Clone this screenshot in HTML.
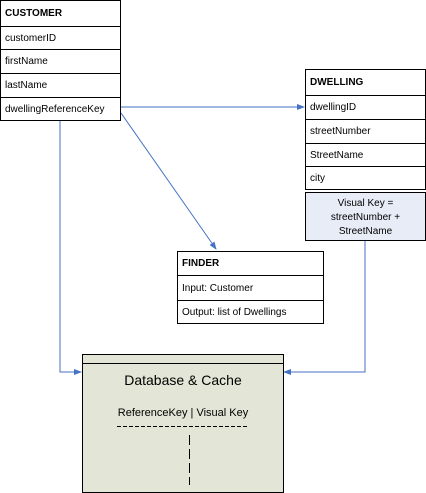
<!DOCTYPE html>
<html><head><style>
body{margin:0;background:#fff;width:426px;height:492px;position:relative;font-family:"Liberation Sans",Arial,sans-serif;font-size:10px;color:#000;overflow:hidden}
.b{position:absolute;border:1px solid #000;box-sizing:border-box;background:#fff}
.r{position:absolute;left:0;right:0;border-top:1px solid #000;padding-left:4px;box-sizing:border-box;display:flex;align-items:center}
.h{font-weight:bold}
</style></head><body>
<svg width="426" height="492" style="position:absolute;left:0;top:0">
<defs><marker id="a" markerWidth="8" markerHeight="8" refX="7" refY="4" orient="auto" markerUnits="userSpaceOnUse"><path d="M0,1 L8,4 L0,7 Z" fill="#4472c4"/></marker></defs>
<g stroke="#4472c4" stroke-width="1" fill="none">
<path d="M121,107 L304,107" marker-end="url(#a)"/>
<path d="M121,113 L216,249" marker-end="url(#a)"/>
<path d="M60,120 L60,372 L81,372" marker-end="url(#a)"/>
<path d="M365,240 L365,372 L284,372" marker-end="url(#a)"/>
</g></svg>
<div class="b" style="left:0;top:0;width:121px;height:121px">
<div class="r h" style="top:0;height:25px;border-top:0">CUSTOMER</div>
<div class="r" style="top:25px;height:23px">customerID</div>
<div class="r" style="top:48px;height:24px">firstName</div>
<div class="r" style="top:72px;height:24px">lastName</div>
<div class="r" style="top:96px;height:24px">dwellingReferenceKey</div>
</div>
<div class="b" style="left:305px;top:69px;width:121px;height:121px">
<div class="r h" style="top:0;height:25px;border-top:0">DWELLING</div>
<div class="r" style="top:25px;height:24px">dwellingID</div>
<div class="r" style="top:49px;height:24px">streetNumber</div>
<div class="r" style="top:73px;height:23px">StreetName</div>
<div class="r" style="top:96px;height:24px">city</div>
</div>
<div class="b" style="left:305px;top:192px;width:121px;height:49px;background:#e8ecf7;text-align:center;padding-top:4px;line-height:14px">Visual Key =<br>streetNumber +<br>StreetName</div>
<div class="b" style="left:177px;top:251px;width:147px;height:73px">
<div class="r h" style="top:0;height:23px;border-top:0">FINDER</div>
<div class="r" style="top:23px;height:25px">Input: Customer</div>
<div class="r" style="top:48px;height:24px">Output: list of Dwellings</div>
</div>
<div class="b" style="left:82px;top:354px;width:202px;height:139px;background:#e3e6d6">
<div style="position:absolute;left:0;right:0;top:8px;border-top:1px solid #000"></div>
<div style="position:absolute;left:0;right:0;top:17px;text-align:center;font-size:14px">Database &amp; Cache</div>
<div style="position:absolute;left:0;right:0;top:52px;text-align:center;font-size:11px">ReferenceKey | Visual Key</div>
<svg style="position:absolute;left:0;top:0" width="200" height="137">
<line x1="34" y1="71.5" x2="165" y2="71.5" stroke="#000" stroke-dasharray="4,2"/>
<line x1="106.5" y1="80" x2="106.5" y2="130" stroke="#000" stroke-dasharray="10,4"/>
</svg>
</div>
</body></html>
